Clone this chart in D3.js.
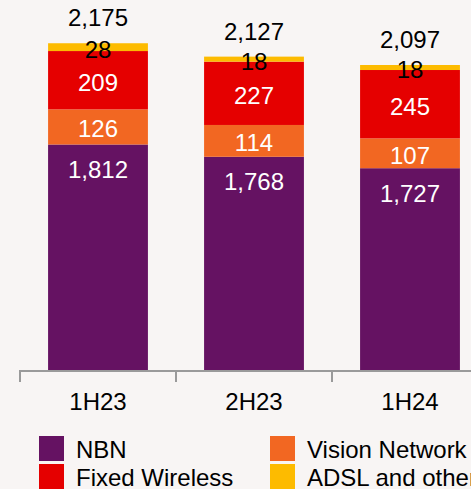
<!DOCTYPE html>
<html>
<head>
<meta charset="utf-8">
<script src="https://cdn.jsdelivr.net/npm/d3@7"></script>
<style>
  html, body { margin: 0; padding: 0; background: #f8f5f4; }
  svg { display: block; font-family: "Liberation Sans", Arial, sans-serif; }
</style>
</head>
<body>
<div id="chart"></div>
<script>
// data
const periods = ["1H23", "2H23", "1H24"];
const nbn = [1812, 1768, 1727];
const visionNetwork = [126, 114, 107];
const fixedWireless = [209, 227, 245];
const adslOther = [28, 18, 18];
const totals = [2175, 2127, 2097];

const seriesNames = ["NBN", "Vision Network", "Fixed Wireless", "ADSL and other"];
const seriesValues = [nbn, visionNetwork, fixedWireless, adslOther];

// colours
const COLORS = ["#651262", "#f26722", "#e50000", "#fdbb00"];
const LABEL_COLORS = ["white", "white", "white", "black"];
const AXIS_COLOR = "#9a9a9a";
const FONT_SIZE = 24;

const width = 471, height = 489;
const axisY = 371;

const svg = d3.select("#chart")
    .append("svg")
    .attr("width", width)
    .attr("height", height);

svg.append("rect")
    .attr("width", width)
    .attr("height", height)
    .attr("fill", "#f8f5f4");

// table for d3.stack
const table = periods.map((p, i) => {
    const row = { period: p };
    seriesNames.forEach((s, j) => row[s] = seriesValues[j][i]);
    return row;
});

const stacked = d3.stack().keys(seriesNames)(table);

// outer band = category slot between ticks, inner band = bar
const xOuter = d3.scaleBand()
    .domain(periods)
    .range([20, 488]);

const xBar = d3.scaleBand()
    .domain(periods)
    .range([20, 488])
    .paddingInner(0.36)
    .paddingOuter(0.18);

// axis starts at 1000 (truncated)
const yScale = d3.scaleLinear()
    .domain([1000, 2330])
    .range([axisY, 0])
    .clamp(true);

const layers = svg.selectAll(".layer")
    .data(stacked)
    .enter()
    .append("g")
    .attr("class", "layer")
    .attr("fill", (d, i) => COLORS[i]);

layers.selectAll("rect")
    .data(d => d)
    .enter()
    .append("rect")
    .attr("x", d => xBar(d.data.period))
    .attr("y", d => yScale(d[1]))
    .attr("width", xBar.bandwidth())
    .attr("height", d => yScale(d[0]) - yScale(d[1]));

// segment labels
layers.selectAll("text")
    .data((d, i) => d.map(v => ({ v, i, key: d.key })))
    .enter()
    .append("text")
    .attr("x", d => xBar(d.v.data.period) + xBar.bandwidth() / 2)
    .attr("y", d => d.i === 0
        ? yScale(d.v[1]) + 25
        : (yScale(d.v[0]) + yScale(d.v[1])) / 2 + 2)
    .attr("dy", "0.35em")
    .attr("text-anchor", "middle")
    .attr("font-size", FONT_SIZE)
    .attr("fill", d => LABEL_COLORS[d.i])
    .text(d => d3.format(",")(d.v.data[d.key]));

// totals
svg.selectAll(".total")
    .data(periods)
    .enter()
    .append("text")
    .attr("class", "total")
    .attr("x", p => xBar(p) + xBar.bandwidth() / 2)
    .attr("y", (p, i) => yScale(totals[i]) - 17)
    .attr("text-anchor", "middle")
    .attr("font-size", FONT_SIZE)
    .attr("fill", "black")
    .text((p, i) => d3.format(",")(totals[i]));

// x axis
const xAxis = svg.append("g")
    .attr("transform", `translate(0,${axisY})`)
    .call(d3.axisBottom(xOuter).tickSize(0).tickPadding(22));

xAxis.select(".domain").remove();
xAxis.selectAll("text")
    .attr("font-size", FONT_SIZE)
    .attr("font-family", "Liberation Sans, Arial, sans-serif")
    .attr("fill", "black");

xAxis.append("line")
    .attr("x1", xOuter.range()[0])
    .attr("x2", xOuter.range()[1])
    .attr("stroke", AXIS_COLOR)
    .attr("stroke-width", 2);

xAxis.selectAll(".boundary")
    .data(periods)
    .enter()
    .append("line")
    .attr("class", "boundary")
    .attr("x1", p => xOuter(p))
    .attr("x2", p => xOuter(p))
    .attr("y1", -1)
    .attr("y2", 11)
    .attr("stroke", AXIS_COLOR)
    .attr("stroke-width", 2);

// legend
const legend = svg.append("g")
    .attr("transform", "translate(39,436)");

const legendItems = legend.selectAll(".item")
    .data(seriesNames)
    .enter()
    .append("g")
    .attr("class", "item")
    .attr("transform", (d, i) => `translate(${(i % 2) * 231},${Math.floor(i / 2) * 28})`);

legendItems.append("rect")
    .attr("width", 25)
    .attr("height", 25)
    .attr("fill", (d, i) => COLORS[seriesNames.indexOf(d)]);

legendItems.append("text")
    .attr("x", 37)
    .attr("y", 22)
    .attr("font-size", FONT_SIZE)
    .attr("fill", "black")
    .text(d => d);
</script>
</body>
</html>
